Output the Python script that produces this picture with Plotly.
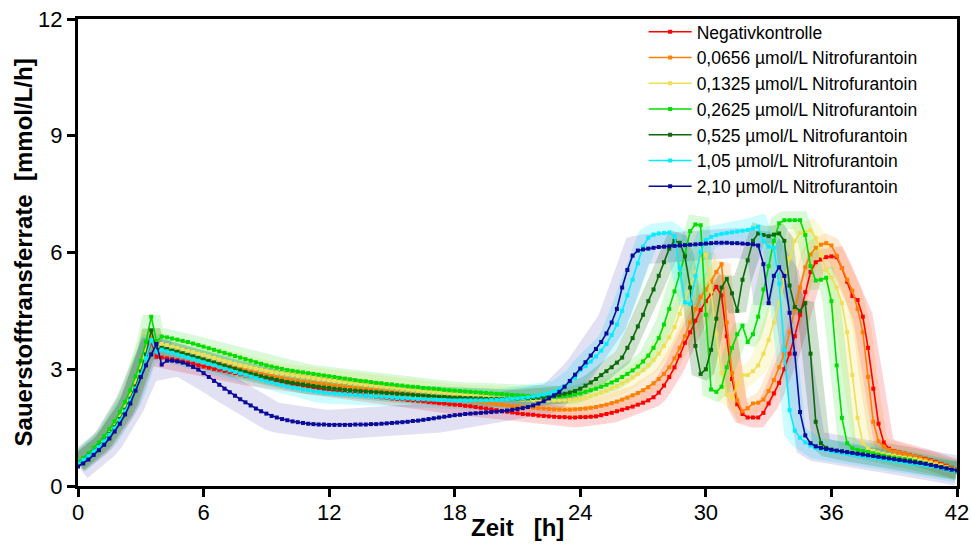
import numpy as np
import plotly.graph_objects as go

# measurement times (every 0.25 h, 0..42 h)
zeit = np.arange(0, 42.001, 0.25)

namen = [
    "Negativkontrolle",
    "0,0656 µmol/L Nitrofurantoin",
    "0,1325 µmol/L Nitrofurantoin",
    "0,2625 µmol/L Nitrofurantoin",
    "0,525 µmol/L Nitrofurantoin",
    "1,05 µmol/L Nitrofurantoin",
    "2,10 µmol/L Nitrofurantoin",
]

otr_negativ = [
    0.58, 0.66, 0.76, 0.88, 1.00, 1.14, 1.30, 1.48, 1.68, 1.92, 2.20, 2.52,
    2.90, 3.30, 3.70, 3.32, 3.30, 3.28, 3.26, 3.23, 3.20, 3.17, 3.14, 3.10,
    3.07, 3.04, 3.01, 2.99, 2.96, 2.93, 2.90, 2.87, 2.84, 2.82, 2.79, 2.77,
    2.74, 2.71, 2.69, 2.66, 2.64, 2.62, 2.60, 2.58, 2.56, 2.54, 2.52, 2.49,
    2.46, 2.44, 2.42, 2.40, 2.38, 2.36, 2.35, 2.33, 2.31, 2.30, 2.28, 2.27,
    2.25, 2.24, 2.23, 2.21, 2.20, 2.19, 2.18, 2.16, 2.15, 2.13, 2.12, 2.10,
    2.09, 2.08, 2.06, 2.05, 2.03, 2.01, 1.99, 1.97, 1.95, 1.93, 1.91, 1.89,
    1.87, 1.85, 1.84, 1.83, 1.81, 1.80, 1.79, 1.78, 1.77, 1.77, 1.76, 1.76,
    1.77, 1.77, 1.78, 1.79, 1.82, 1.85, 1.88, 1.92, 1.96, 2.00, 2.04, 2.09,
    2.14, 2.20, 2.28, 2.40, 2.58, 2.80, 3.05, 3.35, 3.68, 3.95, 4.25, 4.52,
    4.75, 4.95, 5.12, 4.90, 3.85, 2.75, 2.10, 1.85, 1.76, 1.76, 1.76, 1.88,
    2.12, 2.38, 2.65, 3.00, 3.40, 3.85, 4.40, 4.98, 5.50, 5.75, 5.82, 5.88,
    5.90, 5.88, 5.60, 5.25, 4.88, 4.78, 4.35, 3.55, 2.50, 1.60, 1.12, 0.96,
    0.90, 0.86, 0.83, 0.80, 0.76, 0.73, 0.70, 0.66, 0.62, 0.57, 0.52, 0.47,
    0.42,
]

otr_00656 = [
    0.60, 0.68, 0.78, 0.90, 1.03, 1.17, 1.33, 1.51, 1.72, 1.97, 2.26, 2.60,
    3.00, 3.42, 3.82, 3.48, 3.50, 3.48, 3.45, 3.42, 3.38, 3.35, 3.32, 3.28,
    3.25, 3.21, 3.18, 3.14, 3.11, 3.07, 3.04, 3.00, 2.97, 2.94, 2.91, 2.88,
    2.85, 2.82, 2.79, 2.77, 2.74, 2.72, 2.70, 2.68, 2.66, 2.65, 2.63, 2.62,
    2.60, 2.58, 2.57, 2.55, 2.53, 2.52, 2.50, 2.49, 2.47, 2.46, 2.44, 2.43,
    2.41, 2.40, 2.38, 2.37, 2.35, 2.34, 2.32, 2.31, 2.29, 2.28, 2.27, 2.25,
    2.24, 2.22, 2.21, 2.19, 2.17, 2.16, 2.14, 2.12, 2.10, 2.09, 2.07, 2.05,
    2.04, 2.03, 2.02, 2.01, 2.00, 1.99, 1.98, 1.97, 1.96, 1.96, 1.96, 1.97,
    1.98, 1.99, 2.01, 2.03, 2.06, 2.09, 2.13, 2.17, 2.22, 2.27, 2.33, 2.39,
    2.46, 2.54, 2.64, 2.75, 2.88, 3.05, 3.28, 3.55, 3.85, 4.20, 4.55, 4.85,
    5.05, 5.25, 5.50, 5.70, 4.20, 2.90, 2.20, 1.92, 2.00, 2.12, 2.14, 2.22,
    2.44, 2.72, 3.05, 3.40, 3.95, 4.55, 5.10, 5.62, 5.95, 6.12, 6.20, 6.24,
    6.18, 5.92, 5.60, 5.30, 5.02, 4.55, 3.95, 2.80, 1.65, 1.15, 1.00, 0.93,
    0.89, 0.85, 0.82, 0.79, 0.76, 0.72, 0.68, 0.64, 0.60, 0.55, 0.50, 0.45,
    0.41,
]

otr_01325 = [
    0.60, 0.69, 0.80, 0.92, 1.05, 1.20, 1.37, 1.56, 1.78, 2.03, 2.33, 2.68,
    3.08, 3.50, 3.95, 3.62, 3.65, 3.62, 3.58, 3.55, 3.51, 3.47, 3.44, 3.40,
    3.37, 3.33, 3.29, 3.25, 3.21, 3.18, 3.14, 3.11, 3.08, 3.05, 3.02, 2.99,
    2.96, 2.93, 2.91, 2.89, 2.87, 2.85, 2.83, 2.81, 2.79, 2.77, 2.75, 2.74,
    2.72, 2.70, 2.68, 2.67, 2.65, 2.63, 2.62, 2.60, 2.59, 2.57, 2.56, 2.54,
    2.53, 2.51, 2.50, 2.48, 2.47, 2.45, 2.44, 2.43, 2.41, 2.40, 2.39, 2.37,
    2.36, 2.35, 2.33, 2.32, 2.31, 2.30, 2.29, 2.28, 2.27, 2.26, 2.25, 2.24,
    2.23, 2.22, 2.22, 2.21, 2.21, 2.20, 2.20, 2.20, 2.20, 2.20, 2.21, 2.22,
    2.24, 2.27, 2.31, 2.35, 2.40, 2.45, 2.51, 2.57, 2.64, 2.71, 2.79, 2.88,
    2.98, 3.10, 3.24, 3.40, 3.60, 3.82, 4.08, 4.42, 4.78, 5.15, 5.50, 5.82,
    5.95, 5.00, 3.90, 2.90, 2.35, 2.25, 2.60, 2.85, 2.85, 2.95, 3.10, 3.40,
    3.75, 4.20, 4.70, 5.30, 5.85, 6.30, 6.50, 6.53, 6.57, 6.38, 5.95, 5.55,
    5.36, 5.10, 4.70, 3.95, 2.85, 1.75, 1.10, 0.96, 0.90, 0.86, 0.83, 0.80,
    0.78, 0.75, 0.73, 0.71, 0.69, 0.66, 0.63, 0.60, 0.56, 0.52, 0.48, 0.44,
    0.40,
]

otr_02625 = [
    0.62, 0.72, 0.84, 0.98, 1.12, 1.28, 1.46, 1.66, 1.90, 2.16, 2.46, 2.82,
    3.22, 3.70, 4.35, 3.72, 3.84, 3.82, 3.79, 3.76, 3.73, 3.70, 3.66, 3.62,
    3.58, 3.54, 3.50, 3.46, 3.42, 3.38, 3.34, 3.30, 3.26, 3.22, 3.18, 3.14,
    3.10, 3.07, 3.04, 3.01, 2.98, 2.96, 2.94, 2.92, 2.90, 2.88, 2.86, 2.84,
    2.82, 2.80, 2.78, 2.76, 2.74, 2.72, 2.70, 2.69, 2.67, 2.65, 2.64, 2.62,
    2.61, 2.59, 2.58, 2.56, 2.55, 2.54, 2.52, 2.51, 2.50, 2.49, 2.47, 2.46,
    2.45, 2.44, 2.43, 2.42, 2.41, 2.40, 2.39, 2.38, 2.37, 2.36, 2.35, 2.34,
    2.33, 2.32, 2.31, 2.30, 2.30, 2.29, 2.29, 2.29, 2.30, 2.31, 2.33, 2.35,
    2.38, 2.42, 2.46, 2.50, 2.55, 2.60, 2.66, 2.72, 2.80, 2.88, 2.97, 3.07,
    3.20, 3.35, 3.55, 3.80, 4.15, 4.55, 5.00, 5.45, 5.95, 6.55, 6.72, 6.70,
    4.40, 2.48, 2.42, 2.55, 3.05, 3.55, 3.90, 4.12, 3.70, 3.90, 4.35, 5.05,
    5.65, 6.30, 6.75, 6.83, 6.83, 6.83, 6.83, 6.45, 5.65, 5.28, 5.30, 5.35,
    4.75, 3.10, 1.75, 1.10, 0.97, 0.93, 0.90, 0.87, 0.84, 0.81, 0.78, 0.75,
    0.73, 0.71, 0.69, 0.67, 0.64, 0.61, 0.58, 0.55, 0.52, 0.49, 0.46, 0.43,
    0.40,
]

otr_0525 = [
    0.58, 0.67, 0.78, 0.90, 1.03, 1.17, 1.33, 1.51, 1.72, 1.96, 2.24, 2.56,
    2.94, 3.38, 4.00, 3.50, 3.55, 3.52, 3.48, 3.45, 3.41, 3.37, 3.33, 3.29,
    3.25, 3.21, 3.17, 3.13, 3.09, 3.05, 3.01, 2.97, 2.93, 2.89, 2.86, 2.82,
    2.79, 2.76, 2.73, 2.70, 2.67, 2.65, 2.63, 2.61, 2.59, 2.57, 2.55, 2.53,
    2.52, 2.50, 2.49, 2.47, 2.46, 2.45, 2.44, 2.43, 2.42, 2.41, 2.40, 2.39,
    2.38, 2.37, 2.36, 2.35, 2.34, 2.33, 2.32, 2.31, 2.30, 2.29, 2.29, 2.28,
    2.27, 2.27, 2.26, 2.26, 2.25, 2.25, 2.24, 2.24, 2.24, 2.24, 2.24, 2.24,
    2.24, 2.25, 2.25, 2.26, 2.27, 2.28, 2.30, 2.32, 2.34, 2.37, 2.40, 2.44,
    2.50, 2.58, 2.66, 2.75, 2.85, 2.95, 3.05, 3.17, 3.30, 3.55, 3.80, 4.10,
    4.40, 4.75, 5.05, 5.40, 5.75, 6.10, 6.30, 6.25, 5.90, 5.10, 3.60, 2.88,
    3.00, 3.50, 4.30, 5.10, 5.32, 4.95, 4.50, 5.30, 5.80, 6.30, 6.49, 6.45,
    6.42, 6.46, 6.49, 6.30, 5.15, 4.60, 4.50, 4.70, 3.40, 1.65, 1.10, 0.98,
    0.93, 0.90, 0.88, 0.86, 0.84, 0.82, 0.80, 0.78, 0.76, 0.74, 0.72, 0.70,
    0.68, 0.66, 0.64, 0.62, 0.60, 0.58, 0.56, 0.53, 0.50, 0.47, 0.44, 0.41,
    0.38,
]

otr_105 = [
    0.58, 0.67, 0.77, 0.89, 1.01, 1.15, 1.31, 1.48, 1.68, 1.92, 2.19, 2.50,
    2.86, 3.28, 3.75, 3.45, 3.50, 3.46, 3.42, 3.38, 3.34, 3.30, 3.26, 3.22,
    3.18, 3.14, 3.10, 3.05, 3.01, 2.97, 2.93, 2.89, 2.85, 2.81, 2.77, 2.73,
    2.69, 2.66, 2.62, 2.59, 2.56, 2.53, 2.51, 2.48, 2.46, 2.44, 2.42, 2.40,
    2.39, 2.38, 2.37, 2.36, 2.35, 2.34, 2.33, 2.32, 2.31, 2.30, 2.29, 2.28,
    2.27, 2.26, 2.25, 2.25, 2.24, 2.23, 2.23, 2.22, 2.22, 2.21, 2.21, 2.20,
    2.20, 2.20, 2.20, 2.20, 2.20, 2.20, 2.20, 2.21, 2.21, 2.22, 2.23, 2.24,
    2.25, 2.26, 2.28, 2.30, 2.32, 2.35, 2.38, 2.42, 2.48, 2.56, 2.66, 2.78,
    2.98, 3.08, 3.20, 3.33, 3.48, 3.65, 3.88, 4.15, 4.50, 4.90, 5.30, 5.72,
    6.15, 6.38, 6.46, 6.49, 6.50, 6.51, 6.42, 5.60, 4.72, 4.68, 5.40, 6.02,
    6.32, 6.40, 6.45, 6.48, 6.50, 6.52, 6.54, 6.56, 6.58, 6.62, 6.66, 6.30,
    6.15, 6.12, 5.20, 3.50, 1.95, 1.42, 1.24, 1.12, 1.04, 0.98, 0.95, 0.92,
    0.89, 0.87, 0.85, 0.83, 0.81, 0.79, 0.77, 0.75, 0.73, 0.71, 0.69, 0.67,
    0.65, 0.63, 0.61, 0.59, 0.57, 0.55, 0.53, 0.51, 0.49, 0.46, 0.43, 0.40,
    0.37,
]

otr_210 = [
    0.50, 0.58, 0.68, 0.80, 0.92, 1.06, 1.22, 1.40, 1.60, 1.84, 2.12, 2.45,
    2.80, 3.10, 3.38, 3.65, 3.12, 3.22, 3.22, 3.20, 3.17, 3.12, 3.06, 2.99,
    2.90, 2.80, 2.70, 2.60, 2.50, 2.41, 2.32, 2.23, 2.15, 2.07, 1.99, 1.92,
    1.86, 1.80, 1.76, 1.72, 1.69, 1.66, 1.64, 1.62, 1.60, 1.59, 1.58, 1.58,
    1.57, 1.57, 1.57, 1.57, 1.57, 1.58, 1.58, 1.58, 1.59, 1.59, 1.60, 1.61,
    1.62, 1.63, 1.64, 1.65, 1.67, 1.68, 1.70, 1.72, 1.74, 1.76, 1.78, 1.80,
    1.82, 1.83, 1.85, 1.86, 1.87, 1.88, 1.89, 1.90, 1.91, 1.92, 1.94, 1.96,
    1.98, 2.00, 2.03, 2.07, 2.12, 2.18, 2.25, 2.33, 2.42, 2.55, 2.70, 2.86,
    3.02, 3.18, 3.35, 3.52, 3.70, 3.92, 4.20, 4.55, 5.10, 5.55, 5.92, 6.05,
    6.08, 6.10, 6.12, 6.14, 6.15, 6.16, 6.17, 6.18, 6.19, 6.20, 6.21, 6.22,
    6.23, 6.24, 6.25, 6.25, 6.25, 6.24, 6.24, 6.23, 6.22, 6.21, 6.18, 5.70,
    4.70, 5.40, 5.62, 5.40, 4.45, 3.40, 1.90, 1.30, 1.10, 1.02, 0.98, 0.95,
    0.93, 0.91, 0.89, 0.87, 0.85, 0.83, 0.81, 0.79, 0.77, 0.75, 0.73, 0.71,
    0.69, 0.67, 0.65, 0.63, 0.61, 0.59, 0.57, 0.54, 0.51, 0.48, 0.45, 0.42,
    0.40,
]

reihen = [otr_negativ, otr_00656, otr_01325, otr_02625, otr_0525, otr_105, otr_210]
farben = ["#ff0000", "#ff8000", "#f0df55", "#00dd00", "#0b6b0b", "#00eeff", "#0a0a9c"]
band_rgba = [
    "rgba(255,0,0,0.17)", "rgba(255,128,0,0.17)", "rgba(240,223,85,0.22)",
    "rgba(0,221,0,0.15)", "rgba(11,107,11,0.20)", "rgba(0,238,255,0.20)",
    "rgba(10,10,156,0.12)",
]
band_breite = [20, 18, 20, 18, 18, 22, 30]

fig = go.Figure()

for werte, col, bw in zip(reihen, band_rgba, band_breite):
    fig.add_trace(go.Scatter(
        x=zeit, y=werte, mode="lines",
        line=dict(color=col, width=bw),
        hoverinfo="skip", showlegend=False,
    ))

for werte, col, name in zip(reihen, farben, namen):
    fig.add_trace(go.Scatter(
        x=zeit, y=werte, mode="lines+markers", name=name,
        line=dict(color=col, width=1.6),
        marker=dict(symbol="square", size=4, color=col, line=dict(width=0)),
    ))

font_family = "Arial, Liberation Sans, sans-serif"

fig.update_layout(
    width=971, height=546,
    margin=dict(l=78, r=14, t=19, b=60),
    paper_bgcolor="white", plot_bgcolor="white",
    font=dict(family=font_family, color="black"),
    showlegend=True,
    legend=dict(
        x=0.6435, y=1.011, xanchor="left", yanchor="top",
        font=dict(size=17.5, family=font_family, color="black"),
        bgcolor="rgba(0,0,0,0)", borderwidth=0,
        itemwidth=43, tracegroupgap=0,
    ),
    xaxis=dict(
        range=[0, 42], tickmode="array", tickvals=[0, 6, 12, 18, 24, 30, 36, 42],
        ticks="outside", ticklen=8, tickwidth=2.5, tickcolor="black",
        showline=True, linecolor="black", linewidth=3, mirror=True,
        showgrid=False, zeroline=False, automargin=False,
        ticklabelstandoff=-3,
        tickfont=dict(size=22, family=font_family),
    ),
    yaxis=dict(
        range=[0, 12], tickmode="array", tickvals=[0, 3, 6, 9, 12],
        ticks="outside", ticklen=8, tickwidth=2.5, tickcolor="black",
        showline=True, linecolor="black", linewidth=3, mirror=True,
        showgrid=False, zeroline=False, automargin=False,
        tickfont=dict(size=22, family=font_family),
    ),
    annotations=[
        dict(text="<b>Zeit   [h]</b>", x=0.5, xref="paper", y=-0.088, yref="paper",
             xanchor="center", yanchor="middle", showarrow=False,
             font=dict(size=24, family=font_family)),
        dict(text="<b>Sauerstofftransferrate  [mmol/L/h]</b>", x=-0.0615, xref="paper",
             y=0.5, yref="paper", xanchor="center", yanchor="middle", textangle=-90,
             showarrow=False, font=dict(size=24, family=font_family)),
    ],
)

fig.write_html("out.html")
